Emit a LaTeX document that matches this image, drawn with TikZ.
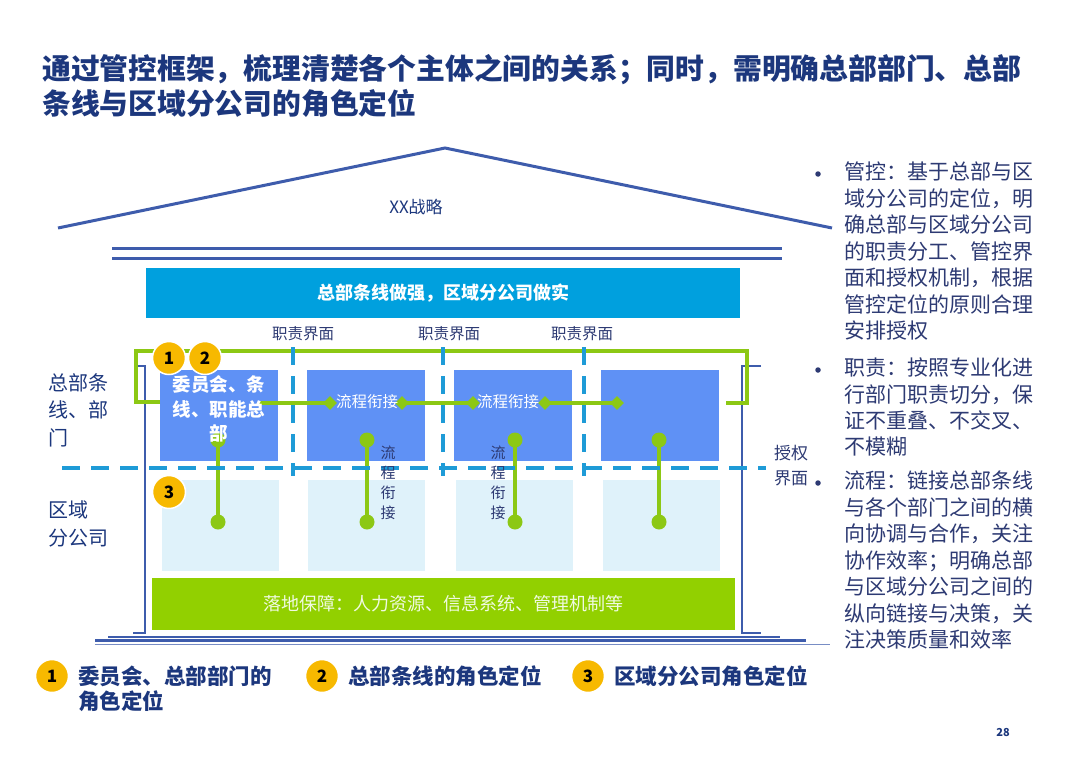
\documentclass[tikz,border=0pt]{standalone}
\usepackage{fontspec}
\setmainfont{Noto Sans CJK SC}
\usetikzlibrary{shapes.geometric}
\definecolor{navy}{RGB}{28,55,125}
\definecolor{textblue}{RGB}{45,58,115}
\definecolor{frameblue}{RGB}{62,92,172}
\definecolor{banner}{RGB}{0,160,222}
\definecolor{boxblue}{RGB}{95,145,245}
\definecolor{lightbox}{RGB}{223,242,250}
\definecolor{basegreen}{RGB}{146,208,0}
\definecolor{lineg}{RGB}{140,200,20}
\definecolor{dashblue}{RGB}{30,155,215}
\definecolor{gold}{RGB}{247,185,0}
\tikzset{
  titletext/.style={font=\fontsize{28.8}{35}\selectfont\bfseries, text=navy, anchor=base west, inner sep=0},
  rtext/.style={font=\fontsize{21}{26}\selectfont, text=textblue, anchor=base west, inner sep=0},
  lefttext/.style={font=\fontsize{20}{26}\selectfont, text=navy, anchor=base west, inner sep=0},
  legtext/.style={font=\fontsize{21.5}{26}\selectfont\bfseries, text=navy, anchor=base west, inner sep=0},
  smalllabel/.style={font=\fontsize{15.5}{18}\selectfont, text=textblue, inner sep=0},
  hqbox/.style={fill=boxblue, draw=none, anchor=north west, minimum width=118pt, minimum height=91pt, inner sep=0},
  branchbox/.style={fill=lightbox, draw=none, anchor=north west, minimum width=117pt, minimum height=91pt, inner sep=0},
  frameline/.style={draw=frameblue, line width=2pt},
  greenline/.style={draw=lineg, line width=4pt},
  dashline/.style={draw=dashblue, line width=4pt, dash pattern=on 18pt off 11pt},
  gdia/.style={diamond, fill=lineg, minimum size=14pt, inner sep=0},
  gdot/.style={circle, fill=lineg, minimum size=15pt, inner sep=0},
  bulletdot/.style={circle, fill=textblue, minimum size=5.5pt, inner sep=0},
  num/.style={circle, fill=gold, draw=white, line width=1.5pt, minimum size=33pt, inner sep=0, font=\fontsize{17}{17}\selectfont\bfseries, text=black},
}
\begin{document}
\begin{tikzpicture}[x=1pt,y=-1pt]
\useasboundingbox[fill=white] (0,0) rectangle (1080,763);

% title
\node[titletext] (t1) at (42,79) {通过管控框架，梳理清楚各个主体之间的关系；同时，需明确总部部门、总部};
\node[titletext] (t2) at (42,114) {条线与区域分公司的角色定位};

% roof
\coordinate (rl) at (58,228);
\coordinate (ra) at (445,148);
\coordinate (rr) at (832,228);
\draw[draw=frameblue, line width=3pt] (rl) -- (ra) -- (rr);
\node[font=\fontsize{17}{20}\selectfont, text=navy] (strat) at (416,207) {XX战略};
\coordinate (c1a) at (112,248); \coordinate (c1b) at (782,248);
\coordinate (c2a) at (112,258); \coordinate (c2b) at (782,258);
\draw[draw=frameblue, line width=3pt] (c1a) -- (c1b);
\draw[draw=frameblue, line width=3pt] (c2a) -- (c2b);

% banner
\node[fill=banner, anchor=north west, minimum width=594pt, minimum height=50pt, inner sep=0] (ban) at (146,268) {};
\node[font=\fontsize{18}{20}\selectfont\bfseries, text=white] (bantext) at (443,293) {总部条线做强，区域分公司做实};

% boxes
\node[hqbox] (h1) at (160,370) {};
\node[hqbox] (h2) at (307,370) {};
\node[hqbox] (h3) at (454,370) {};
\node[hqbox] (h4) at (601,370) {};
\node[branchbox] (b1) at (162,480) {};
\node[branchbox] (b2) at (308,480) {};
\node[branchbox] (b3) at (456,480) {};
\node[branchbox] (b4) at (603,480) {};

% base
\node[fill=basegreen, anchor=north west, minimum width=583pt, minimum height=52pt, inner sep=0] (base) at (152,578) {};
\node[font=\fontsize{18}{20}\selectfont, text={rgb,255:red,240;green,250;blue,225}] (basetext) at (443,604) {落地保障：人力资源、信息系统、管理机制等};

% frame
\coordinate (fl1) at (137,366); \coordinate (fl2) at (145,366);
\coordinate (fl3) at (145,633); \coordinate (fl4) at (133,633);
\draw[frameline] (fl1) -- (fl2) -- (fl3) -- (fl4);
\coordinate (fr1) at (761,366); \coordinate (fr2) at (742,366);
\coordinate (fr3) at (742,633); \coordinate (fr4) at (761,633);
\draw[frameline] (fr1) -- (fr2) -- (fr3) -- (fr4);
\coordinate (g1a) at (108,636.5); \coordinate (g1b) at (780,636.5);
\coordinate (g2a) at (95,640.5); \coordinate (g2b) at (806,640.5);
\coordinate (g3a) at (95,644.5); \coordinate (g3b) at (830,644.5);
\draw[frameline] (g1a) -- (g1b);
\draw[frameline, line width=2.5pt] (g2a) -- (g2b);
\draw[draw=frameblue!70, line width=1.5pt] (g3a) -- (g3b);

% green bracket
\coordinate (k1) at (160,402); \coordinate (k2) at (136,402);
\coordinate (k3) at (136,351); \coordinate (k4) at (747,351);
\coordinate (k5) at (747,403); \coordinate (k6) at (726,403);
\draw[greenline] (k1) -- (k2) -- (k3) -- (k4) -- (k5) -- (k6);

% horizontal chain
\coordinate (s0) at (258,403);
\node[gdia] (d1) at (330,403) {};
\node[gdia] (d2) at (402,403) {};
\node[gdia] (d3) at (473,403) {};
\node[gdia] (d4) at (545,403) {};
\node[gdia] (d5) at (617,403) {};
\draw[greenline] (s0) -- (d1.center);
\draw[greenline] (d2.center) -- (d3.center);
\draw[greenline] (d4.center) -- (d5.center);

% vertical connectors
\foreach \x/\i in {218/1,367/2,515/3,659/4}{
  \node[gdot] (up\i) at (\x,440) {};
  \node[gdot] (dn\i) at (\x,522) {};
  \draw[greenline] (up\i.center) -- (dn\i.center);
}

% dashed lines
\coordinate (hd0) at (62,468); \coordinate (hd1) at (766,468);
\draw[dashline] (hd0) -- (hd1);
\foreach \x/\i in {293/1,443/2,584/3}{
  \coordinate (vt\i) at (\x,347);
  \coordinate (vb\i) at (\x,476);
  \draw[dashline] (vt\i) -- (vb\i);
}

% labels
\foreach \x/\i in {303/1,449/2,582/3}{
  \node[smalllabel] (zz\i) at (\x,334) {职责界面};
}
\node[font=\fontsize{18.5}{24.5}\selectfont\bfseries, text=white, align=center] (h1text) at (219,409) {委员会、条\\线、职能总\\部};
\node[font=\fontsize{15.5}{18}\selectfont, text=white, inner sep=0] (lc1) at (367,402) {流程衔接};
\node[font=\fontsize{15.5}{18}\selectfont, text=white, inner sep=0] (lc2) at (508,402) {流程衔接};
\foreach \c/\j in {流/1,程/2,衔/3,接/4}{
  \node[font=\fontsize{15}{18}\selectfont, text=textblue, inner sep=0] (va\j) at (388,{433+20*\j}) {\c};
  \node[font=\fontsize{15}{18}\selectfont, text=textblue, inner sep=0] (vb\j) at (498,{433+20*\j}) {\c};
}
\node[font=\fontsize{17}{25}\selectfont, text=textblue, align=center] (auth) at (791,466) {授权\\界面};

% left labels
\node[lefttext] (l1) at (48,390) {总部条};
\node[lefttext] (l2) at (48,417.5) {线、部};
\node[lefttext] (l3) at (48,445) {门};
\node[lefttext] (l4) at (48,517.5) {区域};
\node[lefttext] (l5) at (48,545.5) {分公司};

% numbered circles
\node[num] (n1) at (169,358) {1};
\node[num] (n2) at (205,358) {2};
\node[num] (n3) at (169,492) {3};

% right bullets
\node[bulletdot] (bu1) at (818,174) {};
\node[bulletdot] (bu2) at (818,370) {};
\node[bulletdot] (bu3) at (818,483) {};
\foreach \t [count=\i] in {管控：基于总部与区,域分公司的定位，明,确总部与区域分公司,的职责分工、管控界,面和授权机制，根据,管控定位的原则合理,安排授权}{
  \node[rtext] (ra\i) at (844,{179.8+26.5*(\i-1)}) {\t};
}
\foreach \t [count=\i] in {职责：按照专业化进,行部门职责切分，保,证不重叠、不交叉、,不模糊}{
  \node[rtext] (rb\i) at (844,{375.8+26.2*(\i-1)}) {\t};
}
\foreach \t [count=\i] in {流程：链接总部条线,与各个部门之间的横,向协调与合作，关注,协作效率；明确总部,与区域分公司之间的,纵向链接与决策，关,注决策质量和效率}{
  \node[rtext] (rc\i) at (844,{488.8+26.5*(\i-1)}) {\t};
}

% legend
\node[num] (ln1) at (52,676) {1};
\node[legtext] (lt1) at (78,684) {委员会、总部部门的};
\node[legtext] (lt1b) at (78,709) {角色定位};
\node[num] (ln2) at (322,676) {2};
\node[legtext] (lt2) at (348,684) {总部条线的角色定位};
\node[num] (ln3) at (588,676) {3};
\node[legtext] (lt3) at (614,684) {区域分公司角色定位};

\node[font=\fontsize{11}{12}\selectfont\bfseries, text=navy] (page) at (1003,732) {28};
\end{tikzpicture}
\end{document}
